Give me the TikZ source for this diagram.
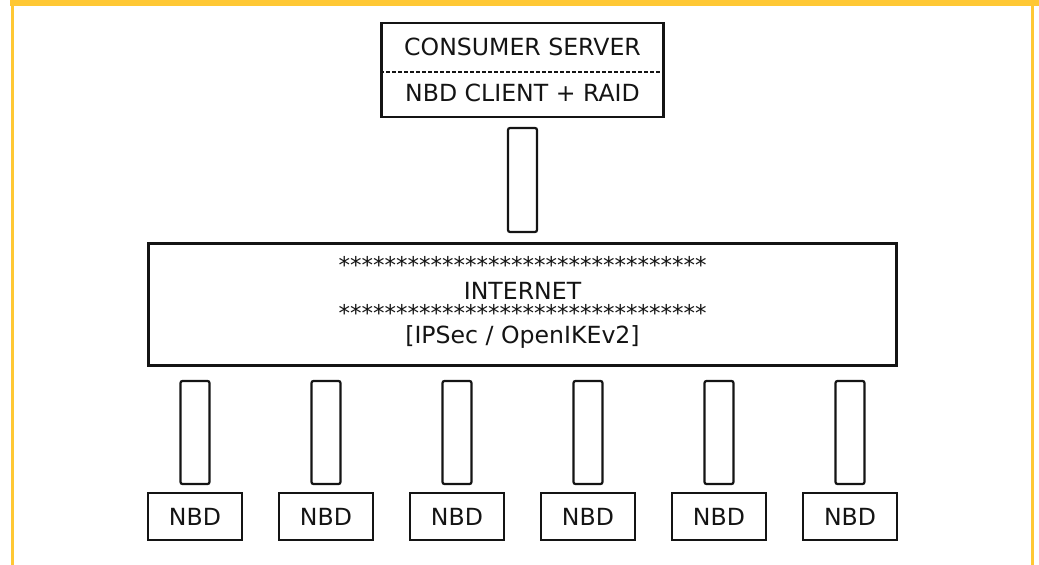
\documentclass[tikz,border=0pt]{standalone}
\usepackage{fontspec}
\setmainfont{DejaVu Sans}
\definecolor{yellowc}{RGB}{255,200,52}
\definecolor{inkc}{RGB}{20,20,20}
\begin{document}
\begin{tikzpicture}[x=1pt,y=-1pt,
  box/.style={draw=inkc, line width=2.2pt, rectangle, inner sep=0pt},
  linkbox/.style={box, rounded corners=2pt, minimum width=29pt, minimum height=104pt},
  nbdbox/.style={box, minimum width=94pt, minimum height=47pt, text=inkc, font=\fontsize{23.6}{27}\selectfont},
  lbl/.style={anchor=base, inner sep=0pt, text=inkc, font=\fontsize{23.6}{27}\selectfont},
  stars/.style={lbl, font=\fontsize{23}{27}\selectfont}]
\useasboundingbox (0,0) rectangle (1039,565);
% frame
\fill[yellowc] (10,0) rectangle (1039,6);
\fill[yellowc] (11,0) rectangle (14,565);
\fill[yellowc] (1031,0) rectangle (1034,565);
% consumer server
\node[box, minimum width=282pt, minimum height=94pt] (cs) at (522.5,70) {};
\draw[inkc, line width=1.8pt, dash pattern=on 4pt off 2pt] ([yshift=-1.7pt]cs.west) -- ([yshift=-1.7pt]cs.east);
\node[lbl] (cst) at (522.5,55.7) {CONSUMER SERVER};
\node[lbl] (csb) at (522.5,101.7) {NBD CLIENT + RAID};
% top link
\node[linkbox] (l0) at (522.5,180) {};
% internet
\node[box, minimum width=748pt, minimum height=122pt] (inet) at (522.5,304.5) {};
\node[stars] (s1) at (522.5,273) {********************************};
\node[lbl] (it) at (522.5,299) {INTERNET};
\node[stars] (s2) at (522.5,321.5) {********************************};
\node[lbl] (ip) at (522.5,343) {[IPSec / OpenIKEv2]};
% NBD nodes
\foreach \i/\x in {1/195,2/326,3/457,4/588,5/719,6/850}{
  \node[linkbox, minimum height=103pt] (l\i) at (\x,432.5) {};
  \node[nbdbox] (n\i) at (\x,516.5) {NBD};
}
\end{tikzpicture}
\end{document}
